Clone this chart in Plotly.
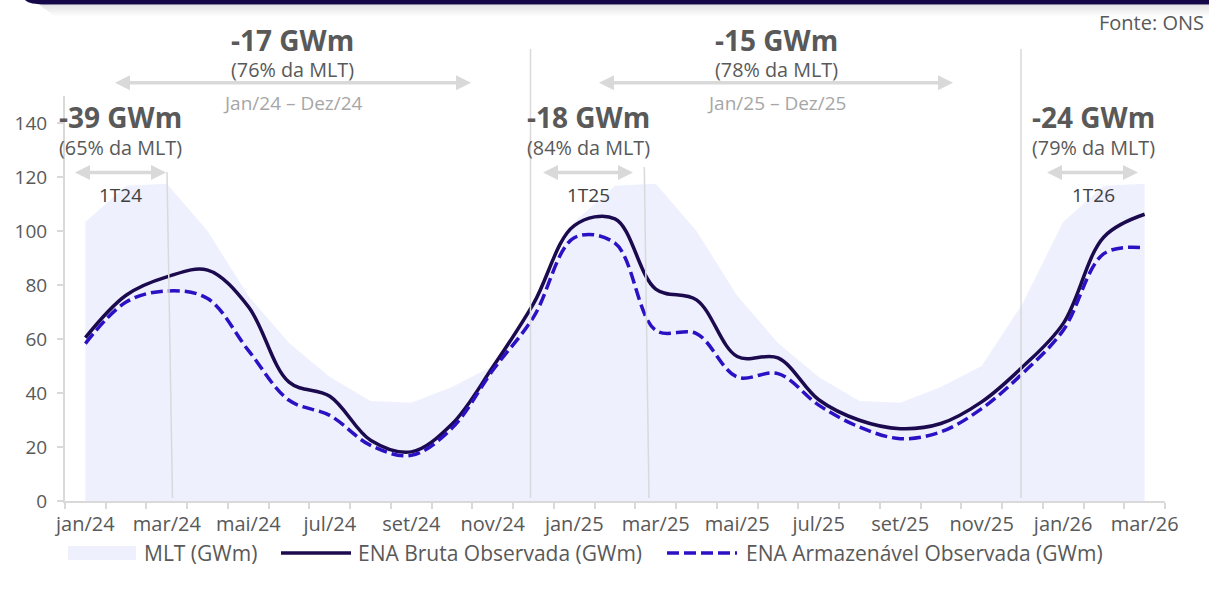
import plotly.graph_objects as go

# months Jan/24 .. Mar/26
meses = ["jan/24", "fev/24", "mar/24", "abr/24", "mai/24", "jun/24", "jul/24", "ago/24",
         "set/24", "out/24", "nov/24", "dez/24", "jan/25", "fev/25", "mar/25", "abr/25",
         "mai/25", "jun/25", "jul/25", "ago/25", "set/25", "out/25", "nov/25", "dez/25",
         "jan/26", "fev/26", "mar/26"]

mlt = [103.3, 116.8, 117.5, 100.0, 76.0, 58.5, 45.9, 37.0, 36.4, 42.2, 50.0, 73.0,
       103.3, 116.8, 117.5, 100.0, 76.0, 58.5, 45.9, 37.0, 36.4, 42.2, 50.0, 73.0,
       103.3, 116.8, 117.5]

ena_bruta = [60.5, 76.2, 83.0, 85.5, 72.0, 44.0, 38.8, 22.5, 18.2, 28.5, 49.6, 73.1,
             102.0, 104.5, 78.5, 74.5, 53.5, 53.0, 37.5, 29.9, 26.8, 28.7, 36.7, 49.6,
             65.7, 97.8, 106.2]

ena_armazenavel = [58.3, 73.7, 77.8, 75.0, 55.8, 37.3, 31.7, 20.6, 16.9, 27.0, 48.4, 68.1,
                   97.5, 95.5, 63.2, 62.0, 45.9, 47.2, 35.5, 27.4, 23.1, 25.6, 34.2, 47.2,
                   63.2, 91.6, 93.8]

yticks = [0, 20, 40, 60, 80, 100, 120, 140]

# period summaries: (text, sub text, period label)
periodos = [("-17 GWm", "(76% da MLT)", "Jan/24 – Dez/24"),
            ("-15 GWm", "(78% da MLT)", "Jan/25 – Dez/25")]
trimestres = [("-39 GWm", "(65% da MLT)", "1T24"),
              ("-18 GWm", "(84% da MLT)", "1T25"),
              ("-24 GWm", "(79% da MLT)", "1T26")]

FONT = "Open Sans"
GRAY = "#595959"
LINE_GRAY = "#D9D9D9"
C_MLT = "#EEF0FD"
C_BRUTA = "#1B0A4E"
C_ARM = "#2C10C4"

W, H = 1209, 596
L, R, T, B = 65, 44, 96, 95


def X(px):
    return (px - L) / (W - L - R)


def Y(py):
    return (H - B - py) / (H - T - B)


fig = go.Figure()
fig.add_trace(go.Scatter(x=meses, y=mlt, name="MLT (GWm)", mode="lines",
                         fill="tozeroy", fillcolor=C_MLT, line=dict(width=0, color=C_MLT),
                         showlegend=False))
fig.add_trace(go.Scatter(x=meses, y=ena_bruta, name="ENA Bruta Observada (GWm)", mode="lines",
                         line=dict(color=C_BRUTA, width=3.5, shape="spline", smoothing=1),
                         showlegend=False))
fig.add_trace(go.Scatter(x=meses, y=ena_armazenavel, name="ENA Armazenável Observada (GWm)",
                         mode="lines",
                         line=dict(color=C_ARM, width=3.5, dash="12px,5px", shape="spline",
                                   smoothing=1),
                         showlegend=False))

shapes = []
annotations = []

# header bar + shadow
shapes.append(dict(type="path", xref="paper", yref="paper", layer="above",
                   path=f"M {X(25)},{Y(-3)} L {X(25)},{Y(0)} Q {X(29)},{Y(4.5)} {X(47)},{Y(4.5)} "
                        f"L {X(1212)},{Y(4.5)} L {X(1212)},{Y(-3)} Z",
                   fillcolor="#150848", line=dict(width=0)))
for i in range(8):
    shapes.append(dict(type="rect", xref="paper", yref="paper", layer="below",
                       x0=X(40 + i * 2), x1=X(1212), y0=Y(4.5 + i * 1.5), y1=Y(6 + i * 1.5),
                       fillcolor=f"rgba(90,90,90,{0.16 - i * 0.02:.3f})", line=dict(width=0)))


def vline(x0, y0, x1, y1):
    shapes.append(dict(type="line", xref="paper", yref="paper", layer="above",
                       x0=X(x0), y0=Y(y0), x1=X(x1), y1=Y(y1),
                       line=dict(color=LINE_GRAY, width=1.5)))


vline(167, 172, 172.5, 498)
vline(530.5, 49, 530.5, 498)
vline(644.3, 167, 649, 498)
vline(1021, 49, 1021, 498)


def arrow(x1, x2, y, hl=15, hw=7.5):
    shapes.append(dict(type="line", xref="paper", yref="paper",
                       x0=X(x1 + hl - 1), x1=X(x2 - hl + 1), y0=Y(y), y1=Y(y),
                       line=dict(color=LINE_GRAY, width=3.5)))
    for tip, base in ((x1, x1 + hl), (x2, x2 - hl)):
        shapes.append(dict(type="path", xref="paper", yref="paper",
                           path=f"M {X(tip)},{Y(y)} L {X(base)},{Y(y - hw)} "
                                f"L {X(base)},{Y(y + hw)} Z",
                           fillcolor=LINE_GRAY, line=dict(width=0)))


def text(s, x, y, size, color=GRAY, bold=False, anchor="center"):
    ann = dict(text=s, x=X(x), y=Y(y), xref="paper", yref="paper",
               xanchor=anchor, yanchor="middle", showarrow=False,
               font=dict(family=FONT, size=size, color=color))
    if bold:
        # tighter box so the big number does not crowd the line below it
        ann["text"] = f"<b>{s}</b>"
        ann["height"] = 28
    annotations.append(ann)


# annual summaries
for (big, sub, per), cx, (a1, a2) in zip(periodos, [292.5, 776], [(115, 471), (599, 953)]):
    text(big, cx, 39.5, 28, bold=True)
    text(sub, cx, 69.5, 19.8)
    arrow(a1, a2, 82.7)
    text(per, cx, 102.5, 19, color="#A6A6A6")

# first-quarter summaries
for (big, sub, tri), cx, (a1, a2) in zip(trimestres, [120, 588, 1093],
                                         [(75, 166), (543, 633), (1047, 1138)]):
    text(big, cx, 117.5, 28, bold=True)
    text(sub, cx, 147, 19.8)
    arrow(a1, a2, 172.5)
    text(tri, cx, 195, 19, color="#404040")

text("Fonte: ONS", 1206, 22, 20, anchor="right")

# legend
shapes.append(dict(type="rect", xref="paper", yref="paper", x0=X(68), x1=X(136),
                   y0=Y(546), y1=Y(560), fillcolor=C_MLT, line=dict(width=0)))
shapes.append(dict(type="line", xref="paper", yref="paper", x0=X(281), x1=X(351),
                   y0=Y(553), y1=Y(553), line=dict(color=C_BRUTA, width=3.5)))
shapes.append(dict(type="line", xref="paper", yref="paper", x0=X(667), x1=X(737),
                   y0=Y(553), y1=Y(553), line=dict(color=C_ARM, width=3.5, dash="12px,5px")))
text("MLT (GWm)", 142, 553, 21, anchor="left")
text("ENA Bruta Observada (GWm)", 356, 553, 21, anchor="left")
text("ENA Armazenável Observada (GWm)", 744, 553, 21, anchor="left")

fig.update_layout(
    width=W, height=H,
    margin=dict(l=L, r=R, t=T, b=B, autoexpand=False),
    plot_bgcolor="white", paper_bgcolor="white",
    font=dict(family=FONT, size=18, color=GRAY),
    shapes=shapes, annotations=annotations,
    xaxis=dict(type="category", range=[-0.5, len(meses) - 0.5],
               tickvals=meses,
               ticktext=[m if i % 2 == 0 else "" for i, m in enumerate(meses)],
               tickangle=0, automargin=False, ticklabelstandoff=4,
               tickson="boundaries", ticks="outside", ticklen=6, tickcolor=LINE_GRAY,
               tickwidth=1.5, showline=True, linecolor=LINE_GRAY, linewidth=2,
               showgrid=False, tickfont=dict(size=20, color=GRAY), fixedrange=True),
    yaxis=dict(range=[0, 150], tickvals=yticks, ticks="outside", ticklen=6,
               tickcolor=LINE_GRAY, tickwidth=1.5, showline=True, linecolor=LINE_GRAY,
               linewidth=2, showgrid=False, zeroline=False, automargin=False,
               ticklabelstandoff=6,
               tickfont=dict(size=19, color=GRAY), fixedrange=True),
)

# page body has a default 8px margin; drop it so the figure fills the window
fig.write_html("out.html", config={"displayModeBar": False},
               post_script="document.body.style.margin='0';")
